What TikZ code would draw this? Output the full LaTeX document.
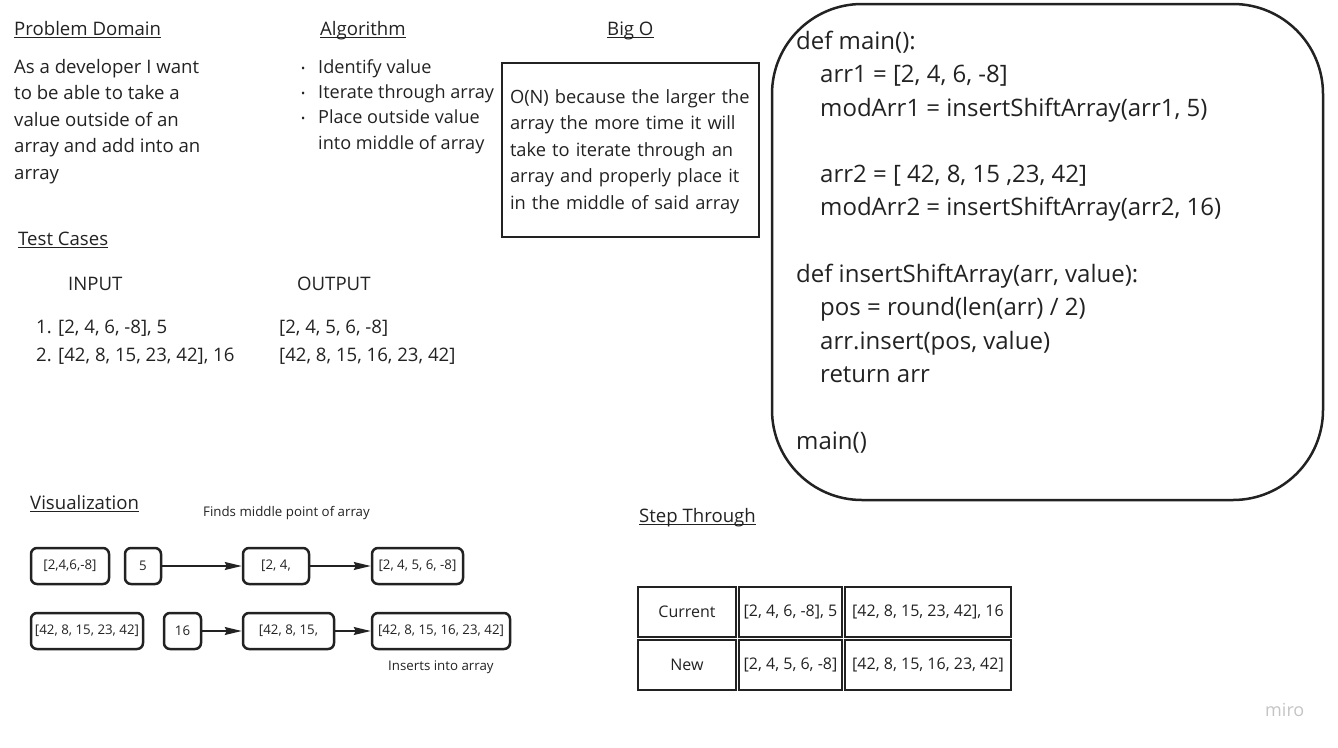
\documentclass[tikz,border=0pt]{standalone}
\usepackage{fontspec}
\setmainfont{Open Sans}
\usetikzlibrary{arrows.meta, positioning}
\definecolor{ink}{HTML}{222222}
\definecolor{logogray}{HTML}{C4C4C4}
\newcommand{\bodyfont}{\fontsize{18.6}{26}\selectfont}
\newcommand{\codefont}{\fontsize{24}{33.3}\selectfont}
\newcommand{\boxfont}{\fontsize{13.3}{15}\selectfont}
\newcommand{\cellfont}{\fontsize{16}{19}\selectfont}
\newcommand{\dotitem}{\llap{{\fontsize{11}{11}\selectfont\raisebox{1pt}{•}}\hspace{13pt}}}
\tikzset{>={Stealth[length=17pt,width=8pt,inset=2pt]}}
\tikzset{
  heading/.style={anchor=base west, inner sep=0, font=\bodyfont, text=ink},
  uline/.style={draw=ink, line width=1pt},
  plain/.style={anchor=base west, inner sep=0, align=left, text=ink},
  bigobox/.style={draw=ink, line width=2.2pt, inner xsep=8pt, inner ysep=0, align=left, font=\fontsize{18.3}{26.5}\selectfont, text=ink},
  codebox/.style={draw=ink, line width=2.5pt, rounded corners=90pt},
  arrbox/.style={draw=ink, line width=2.5pt, rounded corners=6pt, minimum height=36pt, inner sep=0, font=\boxfont, text=ink},
  cell/.style={draw=ink, line width=2.5pt, minimum height=50pt, inner sep=0, font=\cellfont, text=ink},
  flow/.style={->, line width=1.3pt, draw=ink}
}

\begin{document}
\begin{tikzpicture}[x=1pt, y=-1pt]
\useasboundingbox (0,0) rectangle (1338,747);

% headings
\node[heading] (pdhead) at (14,35) {Problem Domain};
\node[heading] (alghead) at (320,35) {Algorithm};
\node[heading] (bighead) at (607,35) {Big O};
\node[heading] (testhead) at (18,245) {Test Cases};
\node[heading] (vishead) at (30,509) {Visualization};
\node[heading] (stephead) at (639,522) {Step Through};
\foreach \h in {pdhead, alghead, bighead, testhead, vishead, stephead}
  \draw[uline] ([yshift=-2pt]\h.base west) -- ([yshift=-2pt]\h.base east);

% problem domain and algorithm (base = last line)
\node[plain, font=\fontsize{18.6}{26.5}\selectfont] (pdtext) at (14,179) {As a developer I want\\ to be able to take a\\ value outside of an\\ array and add into an\\ array};
\node[plain, font=\fontsize{18.1}{25.3}\selectfont] (algtext) at (318,149) {\dotitem Identify value\\ \dotitem Iterate through array\\ \dotitem Place outside value\\ into middle of array};

% big O
\node[bigobox, minimum width=257pt, minimum height=174pt, text width=241pt] (bigo) at (630.5,150) {\rule{0pt}{20pt}O(N) because the larger the\\ array the more time it will\\ take to iterate through an\\ array and properly place it\\ in the middle of said array\rule[-8pt]{0pt}{8pt}};

% code
\node[codebox, minimum width=551pt, minimum height=496pt] (code) at (1047.5,252) {};
\node[plain, font=\codefont] (codetxt) at (796,449) {def main():\\
\hspace*{24pt}arr1 = [2, 4, 6, -8]\\
\hspace*{24pt}modArr1 = insertShiftArray(arr1, 5)\\[33.3pt]
\hspace*{24pt}arr2 = [ 42, 8, 15 ,23, 42]\\
\hspace*{24pt}modArr2 = insertShiftArray(arr2, 16)\\[33.3pt]
def insertShiftArray(arr, value):\\
\hspace*{24pt}pos = round(len(arr) / 2)\\
\hspace*{24pt}arr.insert(pos, value)\\
\hspace*{24pt}return arr\\[33.3pt]
main()};

% test cases
\node[heading] (inhead) at (68,290) {INPUT};
\node[heading] (outhead) at (297,290) {OUTPUT};
\node[plain, font=\fontsize{18.6}{28.5}\selectfont] (inlist) at (36,361.5) {1. [2, 4, 6, -8], 5\\ 2. [42, 8, 15, 23, 42], 16};
\node[plain, font=\fontsize{18.6}{28.5}\selectfont] (outlist) at (279,361.5) {[2, 4, 5, 6, -8]\\ {}[42, 8, 15, 16, 23, 42]};

% visualization
\node[plain, font=\boxfont] (findnote) at (203,516) {Finds middle point of array};
\node[arrbox, minimum width=78pt] (arrA) at (70,566) {[2,4,6,-8]};
\node[arrbox, minimum width=36pt] (valA) at (143,566) {5};
\node[arrbox, minimum width=66pt] (midA) at (276,566) {[2, 4,};
\node[arrbox, minimum width=91pt] (resA) at (417.5,566) {[2, 4, 5, 6, -8]};
\node[arrbox, minimum width=112pt] (arrB) at (87,631) {[42, 8, 15, 23, 42]};
\node[arrbox, minimum width=37pt] (valB) at (182.5,631) {16};
\node[arrbox, minimum width=91pt] (midB) at (288.5,631) {[42, 8, 15,};
\node[arrbox, minimum width=138pt] (resB) at (441,631) {[42, 8, 15, 16, 23, 42]};
\node[plain, font=\boxfont] (insnote) at (388,670) {Inserts into array};
\draw[flow] (valA) -- (midA);
\draw[flow] (midA) -- (resA);
\draw[flow] (valB) -- (midB);
\draw[flow] (midB) -- (resB);

% step through
\node[cell, minimum width=98pt] (cur) at (687,612) {Current};
\node[cell, minimum width=103pt, right=0.5pt of cur] (curA) {[2, 4, 6, -8], 5};
\node[cell, minimum width=166pt, right=0.5pt of curA] (curB) {[42, 8, 15, 23, 42], 16};
\node[cell, minimum width=98pt, below=0.5pt of cur] (new) {New};
\node[cell, minimum width=103pt, below=0.5pt of curA] (newA) {[2, 4, 5, 6, -8]};
\node[cell, minimum width=166pt, below=0.5pt of curB] (newB) {[42, 8, 15, 16, 23, 42]};

\node[anchor=base west, inner sep=0, font=\fontsize{18}{18}\selectfont, text=logogray] (logo) at (1265,716) {miro};
\end{tikzpicture}
\end{document}
